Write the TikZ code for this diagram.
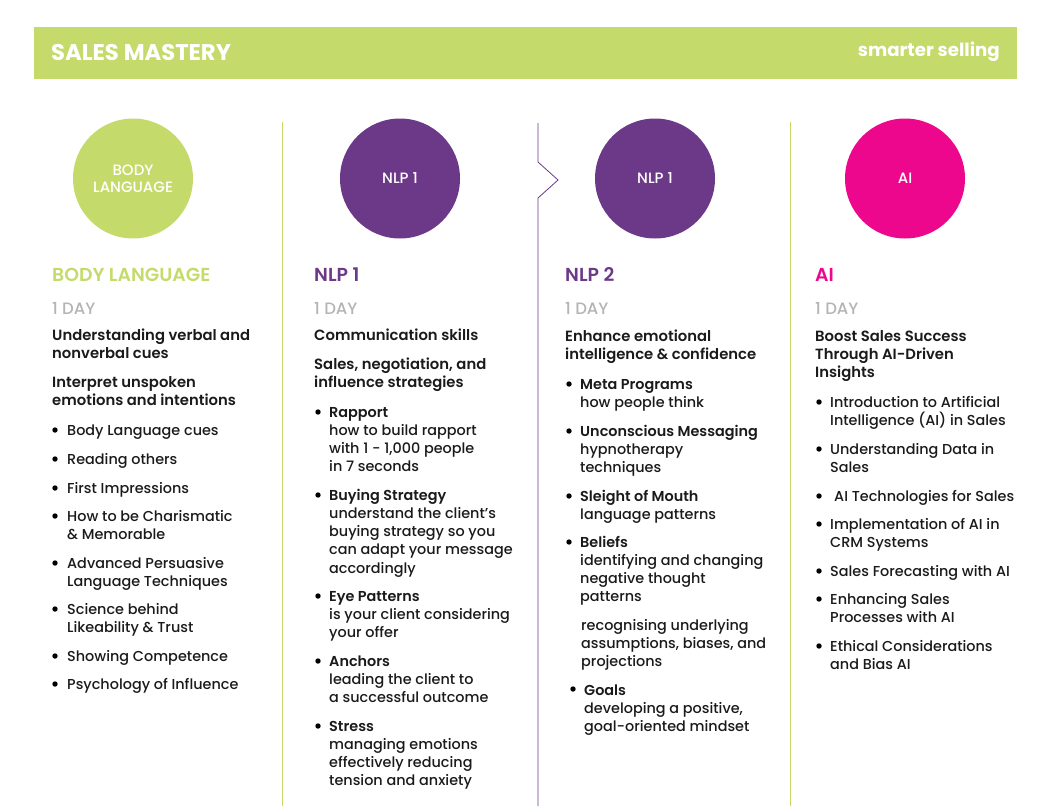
\documentclass[tikz,border=0pt]{standalone}
\usepackage{fontspec}
\setmainfont{Poppins Medium}[BoldFont=Poppins SemiBold]
\newfontfamily\bannerfont{Poppins Bold}
\newcommand{\lead}{\rule{0pt}{13pt}}
\definecolor{limegreen}{HTML}{C4DB6C}
\definecolor{nlppurple}{HTML}{6C3888}
\definecolor{aipink}{HTML}{EC078C}
\definecolor{daygrey}{HTML}{B4B4B4}
\definecolor{bodyink}{HTML}{1A1A1A}
\tikzset{
    badge/.style={circle, minimum size=120pt, inner sep=0pt, text=white, align=center,
        font=\fontsize{15}{17}\selectfont},
    heading/.style={anchor=west, inner sep=0pt, font=\fontsize{18.8}{18}\selectfont\bfseries},
    daylabel/.style={anchor=west, inner sep=0pt, text=daygrey, font=\fontsize{16.5}{18}\selectfont},
    bodytext/.style={anchor=north west, inner sep=0pt, yshift=8pt, align=left, text=bodyink,
        font=\fontsize{14.4}{18.2}\selectfont},
    boldtext/.style={bodytext, font=\fontsize{14.8}{18.2}\selectfont\bfseries},
    dot/.style={circle, fill=black, minimum size=5.4pt, inner sep=0pt}
}
\begin{document}
\begin{tikzpicture}[x=1pt, y=-1pt]
    \useasboundingbox (0, 0) rectangle (1051, 806);
    % banner
    \fill[limegreen] (34, 27) rectangle (1017, 79);
    \node[anchor=west, inner sep=0pt, text=white, font=\fontsize{22.7}{24}\bannerfont] (title) at (51, 52) {SALES MASTERY};
    \node[anchor=east, inner sep=0pt, text=white, font=\fontsize{18.2}{24}\bannerfont] (brand) at (1000, 52) {smarter selling};
    % column rules
    \draw[limegreen, line width=1pt] (282.5, 122) -- (282.5, 806);
    \draw[nlppurple, line width=.8pt] (538, 123) -- (538, 162) -- (558, 180) -- (538, 198) -- (538, 806);
    \draw[limegreen, line width=1pt] (790.5, 122) -- (790.5, 806);
    % badges
    \node[badge, fill=limegreen] (badgebody) at (133, 178.5) {BODY\\LANGUAGE};
    \node[badge, fill=nlppurple] (badgenlpa) at (400, 178.5) {NLP 1};
    \node[badge, fill=nlppurple] (badgenlpb) at (655, 178.5) {NLP 1};
    \node[badge, fill=aipink] (badgeai) at (905, 178.5) {AI};
    % first column
    \node[heading, text=limegreen] (headbody) at (52, 274.5) {BODY LANGUAGE};
    \node[daylabel] (daybody) at (52, 308) {1 DAY};
    \node[boldtext] (bodya) at (52, 335) {\lead Understanding verbal and\\nonverbal cues};
    \node[boldtext] (bodyb) at (52, 382) {\lead Interpret unspoken\\emotions and intentions};
    \node[bodytext] (bodyc) at (67, 430) {\lead Body Language cues};
    \node[bodytext] (bodyd) at (67, 459) {\lead Reading others};
    \node[bodytext] (bodye) at (67, 488) {\lead First Impressions};
    \node[bodytext] (bodyf) at (67, 516) {\lead How to be Charismatic\\\& Memorable};
    \node[bodytext] (bodyg) at (67, 563) {\lead Advanced Persuasive\\Language Techniques};
    \node[bodytext] (bodyh) at (67, 609) {\lead Science behind\\Likeability \& Trust};
    \node[bodytext] (bodyi) at (67, 656) {\lead Showing Competence};
    \node[bodytext] (bodyj) at (67, 684) {\lead Psychology of Influence};
    \foreach \y in {430, 459, 488, 516, 563, 609, 656, 684}
        \node[dot] (dotbody\y) at (55, \y) {};
    % second column
    \node[heading, text=nlppurple] (headnlpa) at (314, 274.5) {NLP 1};
    \node[daylabel] (daynlpa) at (314, 308) {1 DAY};
    \node[boldtext] (nlpaa) at (314, 335) {\lead Communication skills};
    \node[boldtext] (nlpab) at (314, 364) {\lead Sales, negotiation, and\\influence strategies};
    \node[bodytext] (nlpac) at (329, 412) {\lead\textbf{Rapport}\\how to build rapport\\with 1 - 1,000 people\\in 7 seconds};
    \node[bodytext] (nlpad) at (329, 495) {\lead\textbf{Buying Strategy}\\understand the client’s\\buying strategy so you\\can adapt your message\\accordingly};
    \node[bodytext] (nlpae) at (329, 596) {\lead\textbf{Eye Patterns}\\is your client considering\\your offer};
    \node[bodytext] (nlpaf) at (329, 661) {\lead\textbf{Anchors}\\leading the client to\\a successful outcome};
    \node[bodytext] (nlpag) at (329, 726) {\lead\textbf{Stress}\\managing emotions\\effectively reducing\\tension and anxiety};
    \foreach \y in {412, 495, 596, 661, 726}
        \node[dot] (dotnlpa\y) at (318, \y) {};
    % third column
    \node[heading, text=nlppurple] (headnlpb) at (565, 274.5) {NLP 2};
    \node[daylabel] (daynlpb) at (565, 308) {1 DAY};
    \node[boldtext] (nlpba) at (565, 336) {\lead Enhance emotional\\intelligence \& confidence};
    \node[bodytext] (nlpbb) at (580, 384) {\lead\textbf{Meta Programs}\\how people think};
    \node[bodytext] (nlpbc) at (580, 431) {\lead\textbf{Unconscious Messaging}\\hypnotherapy\\techniques};
    \node[bodytext] (nlpbd) at (580, 496) {\lead\textbf{Sleight of Mouth}\\language patterns};
    \node[bodytext] (nlpbe) at (580, 542) {\lead\textbf{Beliefs}\\identifying and changing\\negative thought\\patterns};
    \node[bodytext] (nlpbf) at (581, 625) {\lead recognising underlying\\assumptions, biases, and\\projections};
    \node[bodytext] (nlpbg) at (584, 690) {\lead\textbf{Goals}\\developing a positive,\\goal-oriented mindset};
    \foreach \y in {384, 431, 496, 542}
        \node[dot] (dotnlpb\y) at (569, \y) {};
    \node[dot] (dotgoals) at (573, 689) {};
    % fourth column
    \node[heading, text=aipink] (headai) at (815, 274.5) {AI};
    \node[daylabel] (dayai) at (815, 308) {1 DAY};
    \node[boldtext] (aia) at (815, 336) {\lead Boost Sales Success\\Through AI-Driven\\Insights};
    \node[bodytext] (aib) at (830, 402) {\lead Introduction to Artificial\\Intelligence (AI) in Sales};
    \node[bodytext] (aic) at (830, 449) {\lead Understanding Data in\\Sales};
    \node[bodytext] (aid) at (834, 496) {\lead AI Technologies for Sales};
    \node[bodytext] (aie) at (830, 524) {\lead Implementation of AI in\\CRM Systems};
    \node[bodytext] (aif) at (830, 571) {\lead Sales Forecasting with AI};
    \node[bodytext] (aig) at (830, 599) {\lead Enhancing Sales\\Processes with AI};
    \node[bodytext] (aih) at (830, 646) {\lead Ethical Considerations\\and Bias AI};
    \foreach \y in {402, 449, 496, 524, 571, 599, 646}
        \node[dot] (dotai\y) at (819, \y) {};
\end{tikzpicture}
\end{document}
